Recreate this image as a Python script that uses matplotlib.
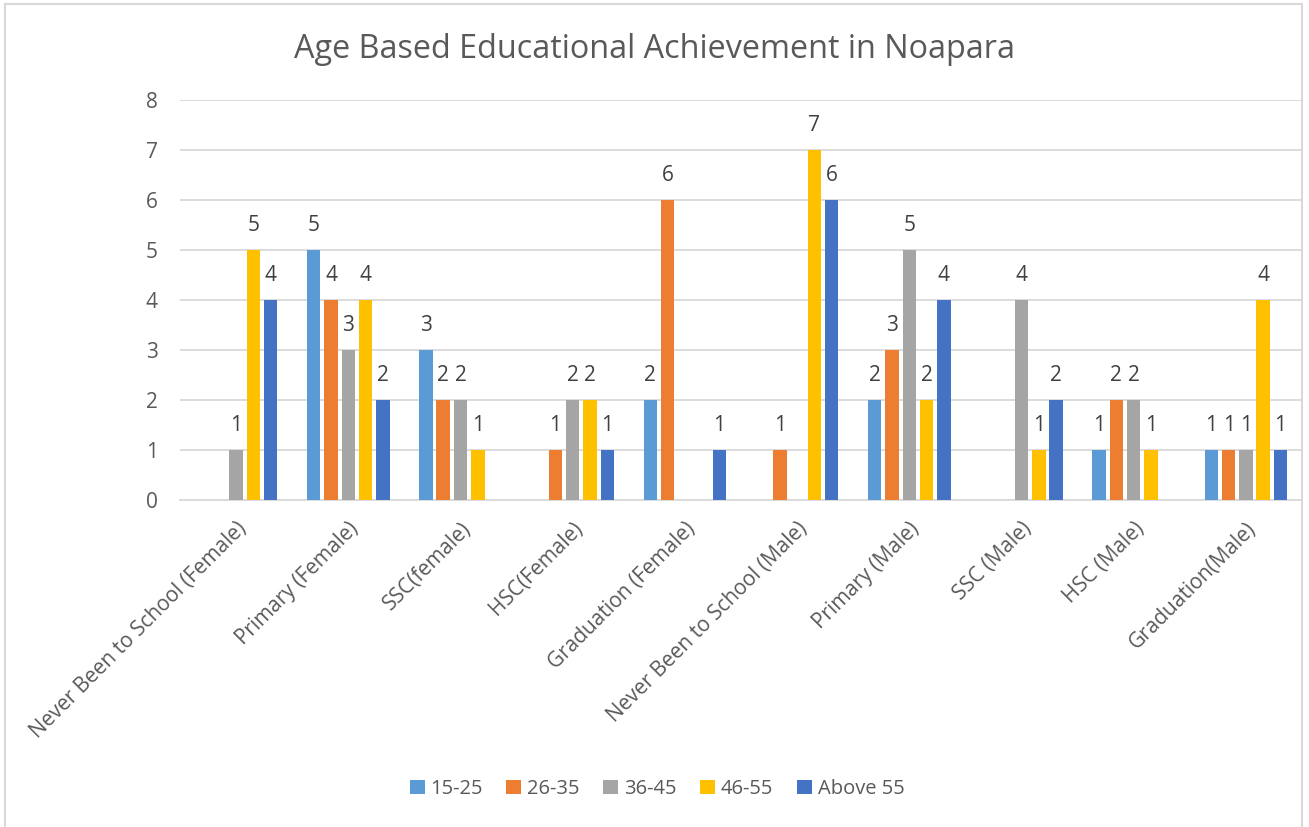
import matplotlib
matplotlib.use("Agg")
import matplotlib.pyplot as plt
import numpy as np
from matplotlib.lines import Line2D

plt.rcParams['font.family'] = ['Open Sans', 'DejaVu Sans']

categories = ["Never Been to School (Female)", "Primary (Female)", "SSC(female)",
              "HSC(Female)", "Graduation (Female)", "Never Been to School (Male)",
              "Primary (Male)", "SSC (Male)", "HSC (Male)", "Graduation(Male)"]
series_names = ["15-25", "26-35", "36-45", "46-55", "Above 55"]
v_15_25 = [0, 5, 3, 0, 2, 0, 2, 0, 1, 1]
v_26_35 = [0, 4, 2, 1, 6, 1, 3, 0, 2, 1]
v_36_45 = [1, 3, 2, 2, 0, 0, 5, 4, 2, 1]
v_46_55 = [5, 4, 1, 2, 0, 7, 2, 1, 1, 4]
v_above_55 = [4, 2, 0, 1, 1, 6, 4, 2, 0, 1]
series_values = [v_15_25, v_26_35, v_36_45, v_46_55, v_above_55]
colors = ["#5B9BD5", "#ED7D31", "#A5A5A5", "#FFC000", "#4472C4"]

W, H = 1309, 827
fig = plt.figure(figsize=(W / 100, H / 100), dpi=100)
ax = fig.add_axes([180 / W, (H - 500) / H, (1302 - 180) / W, 400 / H])

FS = 15
x = np.arange(len(categories))
pitch = 0.154
bw = 0.12
for i, (name, vals, c) in enumerate(zip(series_names, series_values, colors)):
    pos = x + (i - 2) * pitch
    ax.bar(pos, vals, width=bw, color=c, label=name, zorder=3)
    for p, v in zip(pos, vals):
        if v > 0:
            ax.annotate(str(v), (p, v), xytext=(0, 17.5), textcoords='offset points',
                        ha='center', va='center', fontsize=FS, color='#404040')

ax.set_xlim(-0.5, len(categories) - 0.5)
ax.set_ylim(0, 8)
ax.set_yticks(range(0, 9))
ax.grid(axis='y', color='#D9D9D9', linewidth=1.3, zorder=0)
for s in ['top', 'right', 'left']:
    ax.spines[s].set_visible(False)
ax.spines['bottom'].set_color('#D9D9D9')
ax.spines['bottom'].set_linewidth(1.3)
ax.tick_params(axis='both', length=0, labelsize=FS, labelcolor='#595959')
ax.tick_params(axis='y', pad=16)
ax.set_xticks(x)
ax.set_xticklabels(categories, rotation=45, ha='right', rotation_mode='anchor')
ax.tick_params(axis='x', pad=13)

fig.text(654 / W, 1 - 49 / H, "Age Based Educational Achievement in Noapara",
         ha='center', va='center', fontsize=23.3, color='#595959')

leg = fig.legend(loc='center', bbox_to_anchor=(657 / W, 1 - 789 / H), ncol=5,
                 frameon=False, fontsize=14.5, handlelength=0.75, handleheight=0.75,
                 handletextpad=0.3, columnspacing=1.15)
for t in leg.get_texts():
    t.set_color('#595959')

# chart border
bc = '#D9D9D9'
fig.add_artist(Line2D([5 / W, 5 / W], [0, 1 - 4 / H], color=bc, lw=1.5, transform=fig.transFigure))
fig.add_artist(Line2D([5 / W, 1302 / W], [1 - 4 / H, 1 - 4 / H], color=bc, lw=1.5, transform=fig.transFigure))
fig.add_artist(Line2D([1302 / W, 1302 / W], [0, 1 - 4 / H], color=bc, lw=1.5, transform=fig.transFigure))

fig.savefig("out.png", dpi=100)
